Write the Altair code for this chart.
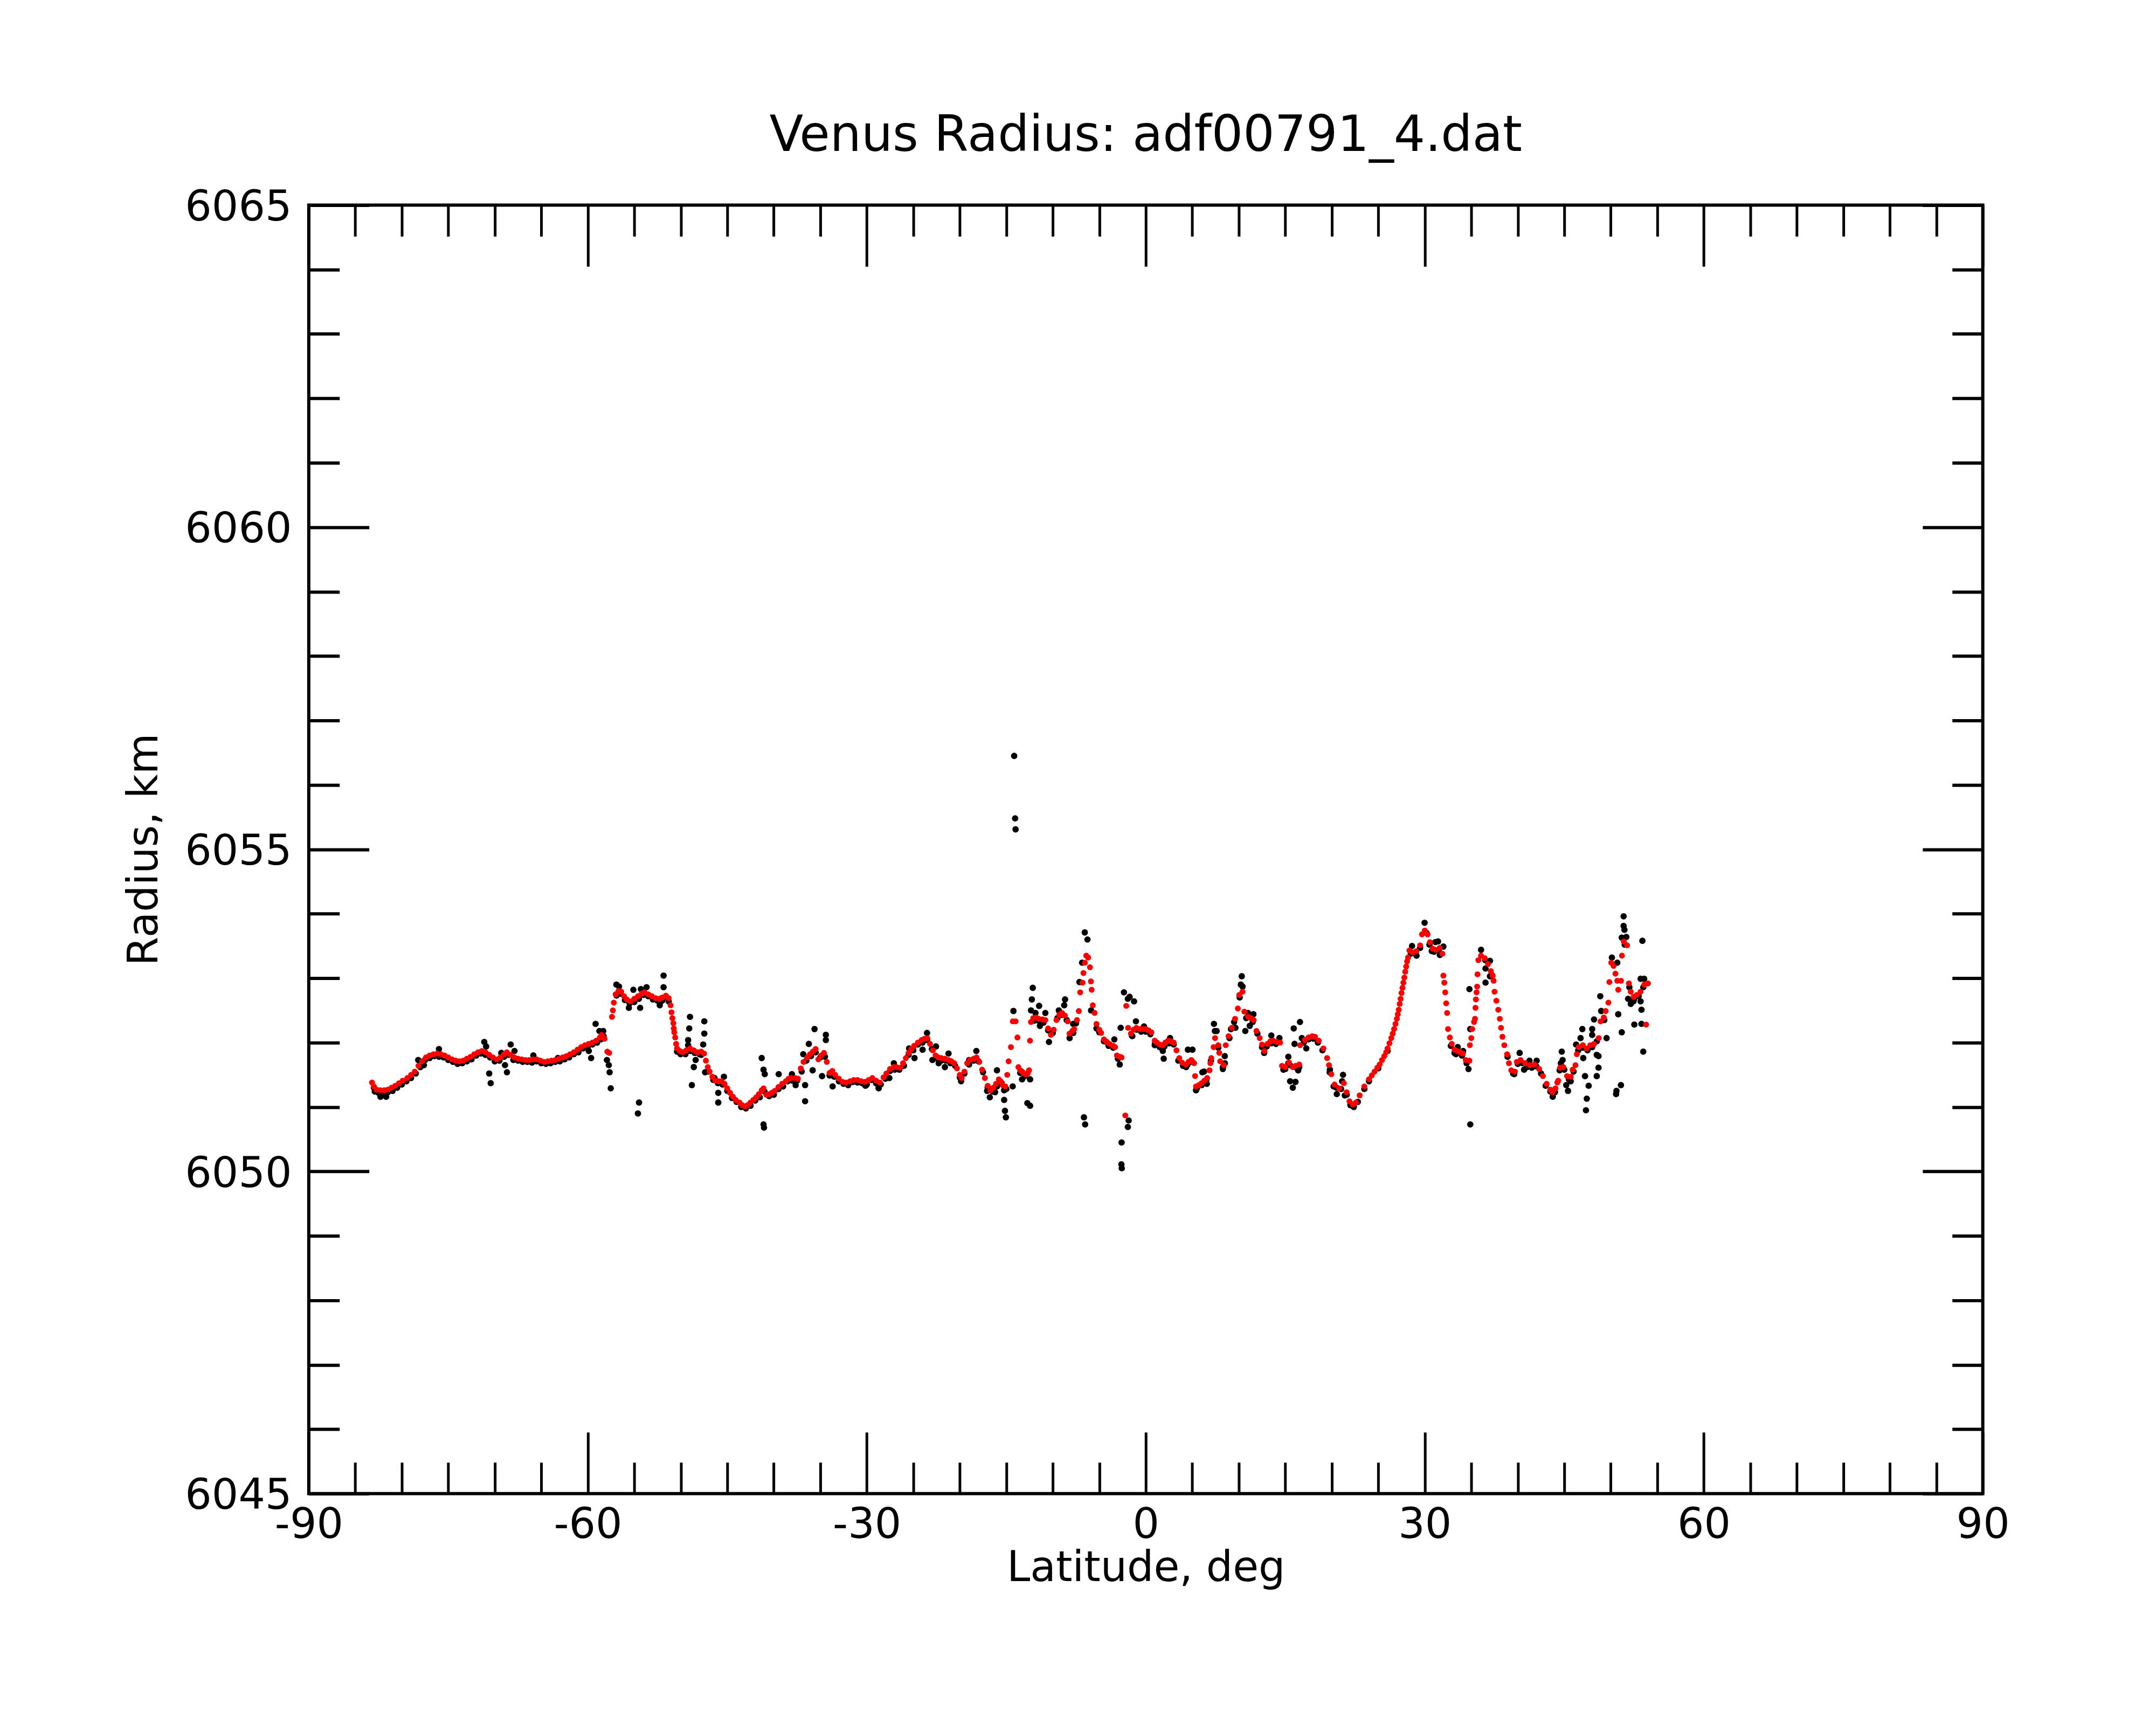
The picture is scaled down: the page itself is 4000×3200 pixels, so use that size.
import altair as alt
import pandas as pd

# ---------------- data ----------------
# smoothed radius profile (red dots): (latitude deg, radius km)
red_trace = [
    (-83.2, 6051.38), (-83.0, 6051.32), (-82.7, 6051.27), (-82.3, 6051.26), (-81.9, 6051.26),
    (-81.5, 6051.27), (-81.1, 6051.30), (-80.7, 6051.33), (-80.3, 6051.37), (-79.9, 6051.41),
    (-79.4, 6051.45), (-79.0, 6051.50), (-78.6, 6051.55), (-78.2, 6051.64), (-77.8, 6051.71),
    (-77.4, 6051.77), (-77.0, 6051.80), (-76.6, 6051.82), (-76.2, 6051.83), (-75.8, 6051.82),
    (-75.4, 6051.80), (-75.0, 6051.77), (-74.6, 6051.74), (-74.2, 6051.72), (-73.8, 6051.71),
    (-73.4, 6051.72), (-73.0, 6051.75), (-72.6, 6051.78), (-72.2, 6051.82), (-71.8, 6051.85),
    (-71.4, 6051.87), (-71.0, 6051.85), (-70.6, 6051.81), (-70.2, 6051.77), (-69.8, 6051.74),
    (-69.4, 6051.77), (-69.0, 6051.82), (-68.7, 6051.85), (-68.3, 6051.81), (-67.9, 6051.77),
    (-67.5, 6051.75), (-67.1, 6051.74), (-66.7, 6051.73), (-66.3, 6051.73), (-65.9, 6051.74),
    (-65.5, 6051.74), (-65.1, 6051.72), (-64.7, 6051.70), (-64.3, 6051.71), (-63.9, 6051.72),
    (-63.5, 6051.73), (-63.1, 6051.75), (-62.7, 6051.77), (-62.3, 6051.79), (-61.9, 6051.82),
    (-61.5, 6051.85), (-61.1, 6051.89), (-60.7, 6051.93), (-60.3, 6051.96), (-59.9, 6051.98),
    (-59.5, 6052.00), (-59.1, 6052.03), (-58.7, 6052.08), (-58.5, 6052.12), (-58.2, 6052.06),
    (-57.9, 6051.86), (-57.7, 6051.84),
    (-57.4, 6052.40), (-57.3, 6052.50), (-57.2, 6052.62), (-57.0, 6052.75), (-56.7, 6052.80),
    (-56.4, 6052.79), (-56.1, 6052.72), (-55.8, 6052.67), (-55.4, 6052.64), (-55.0, 6052.68),
    (-54.6, 6052.72), (-54.2, 6052.76), (-53.9, 6052.78), (-53.5, 6052.75), (-53.1, 6052.72),
    (-52.7, 6052.69), (-52.3, 6052.68), (-52.0, 6052.70), (-51.6, 6052.73), (-51.3, 6052.69),
    (-51.1, 6052.58), (-51.0, 6052.47), (-50.9, 6052.38), (-50.8, 6052.30), (-50.75, 6052.22),
    (-50.7, 6052.16), (-50.6, 6052.08), (-50.5, 6051.98), (-50.4, 6051.91), (-50.1, 6051.87),
    (-49.8, 6051.85), (-49.4, 6051.88), (-49.0, 6051.91), (-48.6, 6051.88), (-48.2, 6051.85),
    (-47.8, 6051.86), (-47.5, 6051.83), (-47.3, 6051.72), (-47.1, 6051.62), (-46.9, 6051.55),
    (-46.6, 6051.47), (-46.3, 6051.41), (-45.9, 6051.40), (-45.6, 6051.40), (-45.3, 6051.36),
    (-45.0, 6051.29), (-44.7, 6051.22), (-44.4, 6051.16), (-44.1, 6051.11), (-43.7, 6051.07),
    (-43.4, 6051.03), (-43.1, 6051.01), (-42.8, 6051.03), (-42.5, 6051.07), (-42.2, 6051.11),
    (-41.9, 6051.15), (-41.6, 6051.20), (-41.3, 6051.26), (-41.1, 6051.29), (-40.8, 6051.19),
    (-40.5, 6051.20), (-40.2, 6051.22), (-39.9, 6051.25), (-39.5, 6051.31), (-39.1, 6051.36),
    (-38.7, 6051.40), (-38.4, 6051.44), (-38.1, 6051.45), (-37.7, 6051.45), (-37.4, 6051.44),
    (-37.1, 6051.60), (-36.8, 6051.70), (-36.4, 6051.77), (-36.1, 6051.82), (-35.8, 6051.86),
    (-35.5, 6051.90), (-35.2, 6051.74), (-34.9, 6051.80), (-34.6, 6051.84), (-34.3, 6051.70),
    (-34.0, 6051.53), (-33.7, 6051.56), (-33.4, 6051.50), (-33.0, 6051.44), (-32.6, 6051.39),
    (-32.2, 6051.38), (-31.8, 6051.40), (-31.4, 6051.42), (-31.0, 6051.42), (-30.6, 6051.40),
    (-30.2, 6051.39), (-29.8, 6051.42), (-29.4, 6051.45), (-29.0, 6051.41), (-28.6, 6051.38),
    (-28.2, 6051.46), (-27.9, 6051.52), (-27.5, 6051.59), (-27.1, 6051.62), (-26.8, 6051.62),
    (-26.4, 6051.61), (-26.1, 6051.68), (-25.8, 6051.76), (-25.5, 6051.84), (-25.2, 6051.90),
    (-24.9, 6051.95), (-24.5, 6052.00), (-24.1, 6052.04), (-23.8, 6052.06), (-23.5, 6052.07),
    (-23.2, 6051.98), (-22.9, 6051.88), (-22.6, 6051.80), (-22.3, 6051.77), (-22.0, 6051.76),
    (-21.6, 6051.75), (-21.2, 6051.73), (-20.9, 6051.71), (-20.6, 6051.68), (-20.3, 6051.60),
    (-20.0, 6051.50), (-19.8, 6051.45), (-19.5, 6051.55), (-19.2, 6051.68), (-18.9, 6051.73),
    (-18.5, 6051.75), (-18.2, 6051.77), (-17.9, 6051.70), (-17.6, 6051.58), (-17.3, 6051.45),
    (-17.0, 6051.33), (-16.7, 6051.26), (-16.4, 6051.30), (-16.1, 6051.36), (-15.8, 6051.43),
    (-15.6, 6051.40), (-15.4, 6051.34), (-15.1, 6051.32), (-14.9, 6051.50), (-14.75, 6051.71),
    (-14.5, 6051.93), (-14.3, 6052.33), (-14.0, 6052.33), (-13.8, 6052.08), (-13.7, 6051.62),
    (-13.5, 6051.57), (-13.3, 6051.55), (-13.1, 6051.52), (-12.9, 6051.51), (-12.7, 6051.52),
    (-12.55, 6051.57), (-12.45, 6052.03), (-12.35, 6052.32), (-12.1, 6052.38), (-11.8, 6052.39),
    (-11.5, 6052.37), (-11.1, 6052.36), (-10.8, 6052.35), (-10.5, 6052.22), (-10.2, 6052.12),
    (-9.9, 6052.20), (-9.6, 6052.35), (-9.3, 6052.43), (-9.0, 6052.46), (-8.7, 6052.42),
    (-8.4, 6052.33), (-8.2, 6052.14), (-7.9, 6052.18), (-7.7, 6052.21), (-7.4, 6052.35),
    (-7.2, 6052.49), (-7.05, 6052.78), (-6.8, 6052.93), (-6.7, 6053.08), (-6.55, 6053.24),
    (-6.4, 6053.35), (-6.2, 6053.32), (-6.0, 6053.17), (-5.9, 6052.95), (-5.82, 6052.82),
    (-5.7, 6052.58), (-5.5, 6052.46), (-5.3, 6052.29), (-5.0, 6052.20), (-4.8, 6052.15),
    (-4.5, 6052.05), (-4.2, 6052.01), (-3.9, 6051.98), (-3.5, 6051.95), (-3.3, 6051.93),
    (-3.1, 6051.80), (-2.8, 6051.78), (-2.6, 6051.77), (-2.2, 6050.87), (-2.1, 6052.57),
    (-1.9, 6052.23), (-1.6, 6052.14), (-1.3, 6052.20), (-1.0, 6052.23), (-0.6, 6052.21),
    (-0.3, 6052.21), (0.0, 6052.21), (0.3, 6052.19), (0.6, 6052.16), (0.96, 6052.03),
    (1.2, 6052.00), (1.5, 6051.97), (1.8, 6051.96), (2.1, 6052.00), (2.4, 6052.03),
    (2.7, 6052.02), (3.0, 6052.00), (3.3, 6051.88), (3.6, 6051.76), (3.9, 6051.69),
    (4.3, 6051.66), (4.6, 6051.70), (4.9, 6051.73), (5.2, 6051.68), (5.3, 6051.48),
    (5.4, 6051.32), (5.7, 6051.34), (6.0, 6051.37), (6.3, 6051.41), (6.6, 6051.45),
    (6.85, 6051.57), (6.95, 6051.68), (7.05, 6051.76), (7.3, 6051.93), (7.45, 6052.07),
    (7.8, 6051.96), (7.9, 6051.84), (8.0, 6051.71), (8.4, 6051.65), (8.6, 6051.96),
    (8.9, 6052.10), (9.25, 6052.23), (9.6, 6052.37), (9.9, 6052.53), (10.05, 6052.74),
    (10.4, 6052.79), (10.6, 6052.48), (11.0, 6052.40), (11.3, 6052.38), (11.6, 6052.35),
    (11.9, 6052.18), (12.25, 6052.07), (12.5, 6051.97), (12.75, 6051.87), (13.1, 6051.98),
    (13.4, 6052.02), (13.7, 6052.03), (14.1, 6052.01), (14.45, 6052.00), (14.65, 6051.64),
    (15.0, 6051.62), (15.4, 6051.69), (15.8, 6051.62), (16.1, 6051.64), (16.5, 6051.66),
    (16.6, 6051.96), (17.1, 6052.04), (17.5, 6052.08), (17.9, 6052.10), (18.2, 6052.09),
    (18.6, 6052.03), (19.1, 6051.91), (19.5, 6051.76), (19.7, 6051.65), (19.95, 6051.51),
    (20.3, 6051.35), (20.8, 6051.29), (21.3, 6051.37), (21.6, 6051.23), (21.9, 6051.09),
    (22.25, 6051.04), (22.6, 6051.07), (23.0, 6051.18), (23.5, 6051.32), (24.0, 6051.43),
    (24.3, 6051.49), (24.6, 6051.55), (24.9, 6051.61), (25.15, 6051.66), (25.4, 6051.73),
    (25.65, 6051.79), (25.85, 6051.85), (26.0, 6051.91), (26.2, 6051.99), (26.4, 6052.07),
    (26.55, 6052.14), (26.7, 6052.21), (26.85, 6052.29), (27.0, 6052.37), (27.1, 6052.44),
    (27.2, 6052.51), (27.3, 6052.60), (27.4, 6052.68), (27.5, 6052.77), (27.6, 6052.85),
    (27.7, 6052.93), (27.8, 6053.01), (27.9, 6053.10), (28.0, 6053.18), (28.1, 6053.26),
    (28.2, 6053.32), (28.35, 6053.43), (28.7, 6053.40), (29.1, 6053.42), (29.5, 6053.51),
    (29.7, 6053.68), (30.0, 6053.74), (30.3, 6053.68), (30.55, 6053.56), (30.85, 6053.46),
    (31.2, 6053.44), (31.6, 6053.47), (31.9, 6053.38), (32.0, 6053.04), (32.1, 6052.93),
    (32.2, 6052.78), (32.3, 6052.61), (32.4, 6052.46), (32.5, 6052.21), (32.7, 6052.08),
    (32.9, 6051.98), (33.2, 6051.89), (33.5, 6051.87), (33.8, 6051.85), (34.1, 6051.83),
    (34.4, 6051.73), (34.8, 6051.72), (34.85, 6051.96), (35.0, 6052.07), (35.1, 6052.21),
    (35.3, 6052.32), (35.4, 6052.37), (35.45, 6052.54), (35.5, 6052.67), (35.57, 6052.78),
    (35.63, 6052.87), (35.67, 6053.06), (35.76, 6053.28), (36.05, 6053.35), (36.45, 6053.31),
    (36.8, 6053.22), (37.1, 6053.11), (37.3, 6053.04), (37.4, 6052.96), (37.5, 6052.79),
    (37.7, 6052.65), (37.9, 6052.51), (38.07, 6052.37), (38.2, 6052.23), (38.35, 6052.09),
    (38.55, 6051.96), (38.85, 6051.82), (39.05, 6051.68), (39.3, 6051.57), (39.7, 6051.55),
    (39.9, 6051.70), (40.3, 6051.73), (40.8, 6051.68), (41.3, 6051.65), (41.8, 6051.66),
    (42.3, 6051.59), (42.7, 6051.48), (43.1, 6051.36), (43.5, 6051.27), (43.75, 6051.23),
    (44.05, 6051.29), (44.25, 6051.38), (44.35, 6051.41), (44.55, 6051.61), (44.9, 6051.62),
    (45.3, 6051.48), (45.7, 6051.47), (45.9, 6051.58), (46.2, 6051.65), (46.35, 6051.82),
    (46.55, 6051.93), (47.0, 6051.96), (47.4, 6051.91), (47.8, 6051.96), (48.2, 6051.98),
    (48.7, 6052.07), (48.9, 6052.33), (49.25, 6052.39), (49.45, 6052.49), (49.75, 6052.62),
    (49.85, 6052.94), (50.05, 6053.24), (50.3, 6053.19), (50.5, 6053.07), (50.7, 6052.96),
    (50.8, 6052.82), (51.1, 6052.96), (51.2, 6053.35), (51.4, 6053.57), (51.75, 6053.51),
    (51.95, 6052.92), (52.15, 6052.79), (52.45, 6052.71), (52.8, 6052.74), (53.2, 6052.79),
    (53.6, 6052.90), (53.8, 6052.28), (54.0, 6052.92),
]

# raw measurements lying close to the profile (black dots)
black_trace = [
    (-83.0, 6051.30), (-82.5, 6051.22), (-81.5, 6051.23), (-80.5, 6051.30), (-79.5, 6051.40),
    (-78.5, 6051.52), (-77.5, 6051.73), (-76.5, 6051.79), (-75.5, 6051.77), (-74.5, 6051.70),
    (-73.5, 6051.68), (-72.5, 6051.74), (-71.5, 6051.83), (-70.5, 6051.77), (-69.5, 6051.72),
    (-68.5, 6051.81), (-67.5, 6051.72), (-66.5, 6051.70), (-65.5, 6051.71), (-64.5, 6051.67),
    (-63.5, 6051.70), (-62.5, 6051.74), (-61.5, 6051.82), (-60.5, 6051.91), (-59.5, 6051.97),
    (-58.6, 6052.05), (-56.5, 6052.76), (-55.5, 6052.61), (-54.5, 6052.68), (-53.5, 6052.72),
    (-52.5, 6052.65), (-51.5, 6052.70), (-50.0, 6051.83), (-49.0, 6051.87), (-48.0, 6051.82),
    (-46.0, 6051.37), (-45.0, 6051.25), (-44.0, 6051.08), (-43.0, 6050.98), (-42.0, 6051.10),
    (-40.5, 6051.17), (-39.5, 6051.28), (-38.5, 6051.40), (-37.5, 6051.41), (-36.0, 6051.79),
    (-35.0, 6051.77), (-33.5, 6051.47), (-32.5, 6051.36), (-31.5, 6051.39), (-30.5, 6051.37),
    (-29.5, 6051.42), (-28.5, 6051.35), (-27.5, 6051.56), (-26.5, 6051.58), (-25.5, 6051.81),
    (-24.5, 6051.97), (-23.5, 6052.04), (-22.5, 6051.76), (-21.5, 6051.72), (-20.5, 6051.64),
    (-19.5, 6051.52), (-18.5, 6051.72), (-17.5, 6051.54), (-16.5, 6051.24), (-15.5, 6051.37),
    (-13.0, 6051.48), (-11.5, 6052.34), (-10.5, 6052.19), (-9.0, 6052.43), (-7.8, 6052.15),
    (-4.5, 6052.02), (-3.5, 6051.92), (-1.0, 6052.20), (0.5, 6052.13), (2.0, 6051.94),
    (3.0, 6051.97), (4.0, 6051.64), (5.0, 6051.70), (6.0, 6051.34), (8.3, 6051.62),
    (11.5, 6052.32), (13.5, 6051.99), (15.0, 6051.59), (16.2, 6051.61), (17.5, 6052.05),
    (18.5, 6052.00), (20.5, 6051.30), (22.3, 6051.01), (24.0, 6051.40), (29.0, 6053.38),
    (30.5, 6053.52), (31.5, 6053.43), (33.5, 6051.84), (34.0, 6051.80), (36.5, 6053.28),
    (40.0, 6051.67), (41.0, 6051.62), (42.0, 6051.63), (43.5, 6051.24), (45.5, 6051.43),
    (47.5, 6051.88), (52.5, 6052.67), (53.0, 6052.72),
]

black_trace_2 = [
    (-82.9, 6051.24), (-82.0, 6051.20), (-81.0, 6051.25), (-80.0, 6051.35), (-79.0, 6051.45),
    (-78.0, 6051.62), (-77.0, 6051.76), (-76.0, 6051.78), (-75.0, 6051.73), (-74.0, 6051.67),
    (-73.0, 6051.71), (-72.0, 6051.80), (-71.0, 6051.81), (-70.0, 6051.71), (-69.0, 6051.78),
    (-68.0, 6051.73), (-67.0, 6051.70), (-66.0, 6051.69), (-65.0, 6051.68), (-64.0, 6051.68),
    (-63.0, 6051.71), (-62.0, 6051.77), (-61.0, 6051.85), (-60.0, 6051.94), (-59.0, 6052.00),
    (-58.3, 6052.10), (-56.9, 6052.73), (-56.0, 6052.66), (-55.0, 6052.63), (-54.0, 6052.74),
    (-53.0, 6052.67), (-52.0, 6052.65), (-51.3, 6052.64), (-50.4, 6051.86), (-49.5, 6051.82),
    (-48.5, 6051.84), (-47.8, 6051.81), (-47.0, 6051.55), (-46.5, 6051.42), (-45.5, 6051.35),
    (-44.5, 6051.14), (-43.5, 6051.00), (-42.5, 6051.02), (-41.5, 6051.15), (-41.0, 6051.24),
    (-40.0, 6051.19), (-39.0, 6051.32), (-38.0, 6051.41), (-37.0, 6051.55), (-36.5, 6051.72),
    (-35.5, 6051.85), (-34.5, 6051.78), (-34.0, 6051.49), (-33.0, 6051.40), (-32.0, 6051.34),
    (-31.0, 6051.38), (-30.0, 6051.35), (-29.0, 6051.37), (-28.0, 6051.44), (-27.0, 6051.58),
    (-26.0, 6051.64), (-25.0, 6051.88), (-24.0, 6052.00), (-23.0, 6051.90), (-22.0, 6051.72),
    (-21.0, 6051.68), (-20.0, 6051.46), (-19.0, 6051.66), (-18.0, 6051.71), (-17.0, 6051.30),
    (-16.0, 6051.32), (-15.0, 6051.28), (-13.5, 6051.53), (-12.0, 6052.34), (-11.0, 6052.31),
    (-10.0, 6052.15), (-9.5, 6052.38), (-8.5, 6052.35), (-7.5, 6052.30), (-5.0, 6052.16),
    (-4.0, 6051.95), (-3.0, 6051.75), (-1.5, 6052.11), (-0.5, 6052.17), (0.0, 6052.17),
    (1.0, 6051.99), (1.5, 6051.93), (2.5, 6051.99), (3.5, 6051.72), (4.5, 6051.66),
    (5.5, 6051.29), (6.5, 6051.41), (7.0, 6051.72), (7.8, 6051.92), (8.5, 6051.68),
    (9.0, 6052.07), (9.5, 6052.32), (10.1, 6052.70), (10.8, 6052.38), (12.0, 6052.14),
    (12.5, 6051.93), (13.0, 6051.94), (14.0, 6051.98), (14.8, 6051.58), (15.5, 6051.65),
    (16.5, 6051.62), (17.0, 6052.00), (18.0, 6052.06), (19.0, 6051.88), (19.8, 6051.58),
    (20.2, 6051.32), (21.0, 6051.28), (21.6, 6051.19), (22.0, 6051.03), (22.8, 6051.08),
    (23.5, 6051.28), (25.0, 6051.60), (26.0, 6051.87), (28.5, 6053.38), (29.5, 6053.47),
    (30.2, 6053.70), (31.0, 6053.41), (32.8, 6051.95), (33.2, 6051.84), (34.5, 6051.68),
    (37.2, 6053.05), (38.9, 6051.78), (39.5, 6051.52), (40.5, 6051.68), (41.5, 6051.61),
    (42.5, 6051.52), (43.0, 6051.33), (44.0, 6051.23), (44.5, 6051.57), (45.0, 6051.58),
    (46.0, 6051.55), (46.5, 6051.88), (47.0, 6051.92), (48.0, 6051.93), (48.5, 6052.02),
    (49.3, 6052.35), (51.5, 6053.52), (52.0, 6052.86), (53.5, 6052.86),
]

# raw measurements scattered away from the profile (black dots)
black_scatter = [
    (-82.29, 6051.16), (-81.68, 6051.16), (-78.23, 6051.73), (-77.62, 6051.65), (-76.00, 6051.90),
    (-71.13, 6052.01), (-70.93, 6051.94), (-70.60, 6051.52), (-70.44, 6051.37), (-69.30, 6051.84),
    (-68.90, 6051.65), (-68.69, 6051.54), (-68.29, 6051.97), (-67.88, 6051.87), (-65.85, 6051.80),
    (-63.21, 6051.76), (-59.89, 6051.87), (-59.64, 6051.76), (-59.16, 6052.29), (-58.75, 6052.18),
    (-58.34, 6052.18), (-57.94, 6051.73), (-57.74, 6051.65), (-57.65, 6051.54), (-57.53, 6051.29),
    (-56.92, 6052.90), (-56.64, 6052.87), (-55.58, 6052.54), (-55.10, 6052.82), (-54.29, 6052.83),
    (-54.37, 6052.54), (-54.49, 6051.07), (-54.61, 6050.90), (-53.68, 6052.86), (-52.26, 6052.58),
    (-51.85, 6053.04), (-51.85, 6052.86), (-49.01, 6052.40), (-49.09, 6052.22), (-49.21, 6052.04),
    (-49.21, 6051.96), (-47.47, 6052.33), (-47.47, 6052.14), (-47.59, 6051.97), (-50.02, 6051.82),
    (-48.81, 6051.34), (-48.60, 6051.62), (-48.40, 6051.73), (-47.39, 6051.54), (-46.37, 6051.45),
    (-45.97, 6051.22), (-45.97, 6051.07), (-45.36, 6051.47), (-41.30, 6051.76), (-41.10, 6051.58),
    (-40.97, 6051.51), (-41.10, 6050.73), (-41.05, 6050.68), (-39.47, 6051.51), (-38.05, 6051.51),
    (-37.65, 6051.34), (-36.63, 6051.34), (-36.63, 6051.09), (-36.83, 6051.82), (-36.23, 6051.98),
    (-35.62, 6052.21), (-34.40, 6052.12), (-34.40, 6052.04), (-35.82, 6051.57), (-34.81, 6051.48),
    (-33.67, 6051.32), (-30.14, 6051.33), (-28.72, 6051.29), (-27.09, 6051.68),
    (-28.73, 6051.30), (-27.57, 6051.45), (-25.45, 6051.91), (-24.87, 6051.76), (-24.00, 6051.89),
    (-23.52, 6052.15), (-22.56, 6051.94), (-22.94, 6051.73), (-22.27, 6051.68), (-21.60, 6051.62),
    (-21.21, 6051.83), (-19.86, 6051.40), (-18.99, 6051.73), (-18.22, 6051.87), (-16.77, 6051.15),
    (-17.06, 6051.25), (-16.00, 6051.57), (-16.20, 6051.23), (-15.23, 6051.26), (-15.23, 6051.11),
    (-15.14, 6050.94), (-15.04, 6050.84), (-14.31, 6051.32), (-14.23, 6052.49), (-13.30, 6051.43),
    (-12.73, 6051.06), (-12.44, 6051.02), (-12.44, 6051.43), (-12.15, 6052.85), (-12.25, 6052.67),
    (-12.34, 6052.50), (-11.86, 6052.46), (-11.47, 6052.57), (-11.38, 6052.26), (-10.80, 6052.46),
    (-10.41, 6052.01), (-9.35, 6052.50), (-8.68, 6052.67), (-8.77, 6052.58), (-8.19, 6052.07),
    (-7.81, 6052.29), (-7.13, 6052.94), (-6.85, 6053.24), (-6.56, 6053.71), (-6.27, 6053.60),
    (-6.65, 6050.84), (-6.52, 6050.73), (-5.88, 6052.50), (-5.30, 6052.22), (-4.24, 6052.01),
    (-3.86, 6051.96), (-3.38, 6052.05), (-2.80, 6051.66), (-2.70, 6052.23), (-2.35, 6052.78),
    (-1.93, 6052.68), (-1.74, 6052.71), (-1.26, 6052.64), (-1.84, 6050.79), (-1.93, 6050.69),
    (-2.60, 6050.45), (-2.62, 6050.11), (-2.58, 6050.05), (-1.45, 6052.10), (-1.06, 6052.33),
    (-0.19, 6052.25), (0.96, 6051.96),
    (-14.15, 6056.45), (-14.05, 6055.48), (-14.00, 6055.31),
    (1.83, 6051.87), (1.93, 6051.75), (2.61, 6052.07), (4.53, 6051.89), (5.02, 6051.89),
    (4.34, 6051.62), (5.40, 6051.26), (6.08, 6051.54), (6.27, 6051.55), (6.56, 6051.36),
    (7.33, 6052.29), (7.43, 6052.18), (7.62, 6052.18), (8.29, 6051.59), (8.49, 6051.79),
    (9.16, 6052.21), (9.64, 6052.23), (10.32, 6053.03), (10.41, 6052.87), (10.22, 6052.90),
    (10.99, 6052.46), (11.57, 6052.44), (11.18, 6052.26), (10.70, 6052.18), (12.73, 6051.84),
    (13.50, 6052.11), (14.37, 6052.07), (15.33, 6051.78), (15.33, 6051.68), (15.91, 6052.22),
    (16.58, 6052.32), (16.00, 6051.98), (16.78, 6052.07), (16.39, 6051.57), (15.52, 6051.40),
    (16.10, 6051.39), (15.81, 6051.30), (17.26, 6051.91), (19.77, 6051.54), (21.21, 6051.50),
    (21.11, 6051.40), (20.54, 6051.20), (21.40, 6051.18), (22.37, 6051.00), (28.63, 6053.50),
    (29.11, 6053.35), (29.98, 6053.86), (31.14, 6053.56), (30.75, 6053.42),
    (31.42, 6053.57), (32.00, 6053.49), (31.62, 6053.36), (33.54, 6051.93), (33.35, 6051.82),
    (34.12, 6051.87), (34.70, 6051.59), (34.89, 6050.73), (34.80, 6052.83), (34.89, 6052.21),
    (36.05, 6053.44), (36.53, 6053.15), (36.53, 6052.93), (37.01, 6053.03), (37.01, 6053.27),
    (39.62, 6051.51), (40.20, 6051.84), (40.68, 6051.58), (41.26, 6051.72), (42.03, 6051.72),
    (43.76, 6051.16), (44.73, 6051.86), (44.82, 6051.73), (44.63, 6051.68), (45.21, 6051.34),
    (45.40, 6051.25), (45.69, 6051.40), (46.27, 6051.97), (46.75, 6052.07), (46.94, 6052.21),
    (47.04, 6051.76), (47.23, 6051.48), (47.62, 6051.33), (47.42, 6051.13), (47.33, 6050.95),
    (48.00, 6052.21), (48.00, 6052.12), (48.20, 6052.36), (48.49, 6051.81), (48.68, 6051.79),
    (48.68, 6051.61), (48.49, 6051.48), (48.87, 6052.72), (48.97, 6052.49), (49.55, 6052.07),
    (50.12, 6053.32), (50.70, 6053.24), (50.61, 6051.25), (50.57, 6051.20), (51.09, 6051.34),
    (50.80, 6052.44), (51.18, 6052.16), (51.38, 6053.96), (51.38, 6053.81), (51.47, 6053.75),
    (51.67, 6053.64), (51.18, 6053.63), (51.86, 6052.68), (52.15, 6052.60), (52.44, 6052.64),
    (52.53, 6052.28), (53.21, 6052.99), (53.40, 6053.58), (53.21, 6052.64), (53.30, 6052.51),
    (53.30, 6052.29), (53.49, 6051.86), (53.59, 6052.99),
]

# axis tick values
x_major = [-90, -60, -30, 0, 30, 60, 90]
x_minor = [-85, -80, -75, -70, -65, -55, -50, -45, -40, -35, -25, -20, -15, -10, -5,
           5, 10, 15, 20, 25, 35, 40, 45, 50, 55, 65, 70, 75, 80, 85]
y_major = [6045, 6050, 6055, 6060, 6065]
y_minor = [6046, 6047, 6048, 6049, 6051, 6052, 6053, 6054, 6056, 6057, 6058, 6059,
           6061, 6062, 6063, 6064]

title_text = "Venus Radius: adf00791_4.dat"
x_title = "Latitude, deg"
y_title = "Radius, km"

# ---------------- chart ----------------
W, H = 3112, 2395
FONT = "DejaVu Sans"
FS = 78

red_df = pd.DataFrame(red_trace, columns=["lat", "r"])
blk_df = pd.DataFrame(black_trace + black_trace_2 + black_scatter, columns=["lat", "r"])

xs = alt.Scale(domain=[-90, 90], nice=False, zero=False)
ys = alt.Scale(domain=[6045, 6065], nice=False, zero=False)


def tick_axis(orient, values, size, width, offset):
    return alt.Axis(orient=orient, values=values, offset=offset, tickSize=size,
                    tickWidth=width, tickColor="black", ticks=True, labels=False,
                    domain=False, grid=False, title=None)


label_x = alt.Axis(orient="bottom", values=x_major, labelExpr="toString(datum.value)",
                   ticks=False, tickSize=0, domain=False, grid=False,
                   labelFont=FONT, labelFontSize=FS, labelColor="black",
                   labelPadding=20, labelFlush=False, labelOverlap=False, labelLimit=1000,
                   title=x_title, titleFont=FONT, titleFontSize=FS,
                   titleFontWeight="normal", titleColor="black",
                   titleBaseline="alphabetic", titleY=162)
label_y = alt.Axis(orient="left", values=y_major, labelExpr="toString(datum.value)",
                   ticks=False, tickSize=0, domain=False, grid=False,
                   labelFont=FONT, labelFontSize=FS, labelColor="black",
                   labelPadding=32, labelOffset=5, labelFlush=False, labelOverlap=False,
                   labelLimit=1000,
                   title=y_title, titleFont=FONT, titleFontSize=FS,
                   titleFontWeight="normal", titleColor="black",
                   titleBaseline="alphabetic", titleX=-282)


def tick_layer(xa, ya):
    return alt.Chart(red_df).mark_circle(opacity=0).encode(
        x=alt.X("lat:Q", scale=xs, axis=xa),
        y=alt.Y("r:Q", scale=ys, axis=ya),
    )


# inward ticks: bottom & left edges
t1 = tick_layer(tick_axis("top", x_major, 114, 5, -H), tick_axis("right", y_major, 112, 6, -W))
t2 = tick_layer(tick_axis("top", x_minor, 58, 5, -H), tick_axis("right", y_minor, 57, 6, -W))
# inward ticks: top & right edges
t3 = tick_layer(tick_axis("bottom", x_major, 114, 5, -H), tick_axis("left", y_major, 112, 6, -W))
t4 = tick_layer(tick_axis("bottom", x_minor, 58, 5, -H), tick_axis("left", y_minor, 57, 6, -W))

black_pts = alt.Chart(blk_df).mark_circle(size=140, color="black", opacity=1).encode(
    x=alt.X("lat:Q", scale=xs, axis=label_x),
    y=alt.Y("r:Q", scale=ys, axis=label_y),
)
red_pts = alt.Chart(red_df).mark_circle(size=120, color="#ff0000", opacity=1).encode(
    x=alt.X("lat:Q", scale=xs, axis=None),
    y=alt.Y("r:Q", scale=ys, axis=None),
)

chart = alt.layer(t1, t2, t3, t4, black_pts, red_pts).resolve_axis(
    x="independent", y="independent"
).properties(
    width=W,
    height=H,
    title=alt.TitleParams(text=title_text, font=FONT, fontSize=92, fontWeight="normal",
                          color="black", anchor="middle", frame="group",
                          baseline="alphabetic", offset=66, dy=91),
    padding={"left": 566, "top": 370, "right": 314, "bottom": 427},
    autosize=alt.AutoSizeParams(type="none"),
    background="white",
).configure_view(stroke="black", strokeWidth=6)

chart.save("out.html", embed_options={"renderer": "svg", "actions": False})
